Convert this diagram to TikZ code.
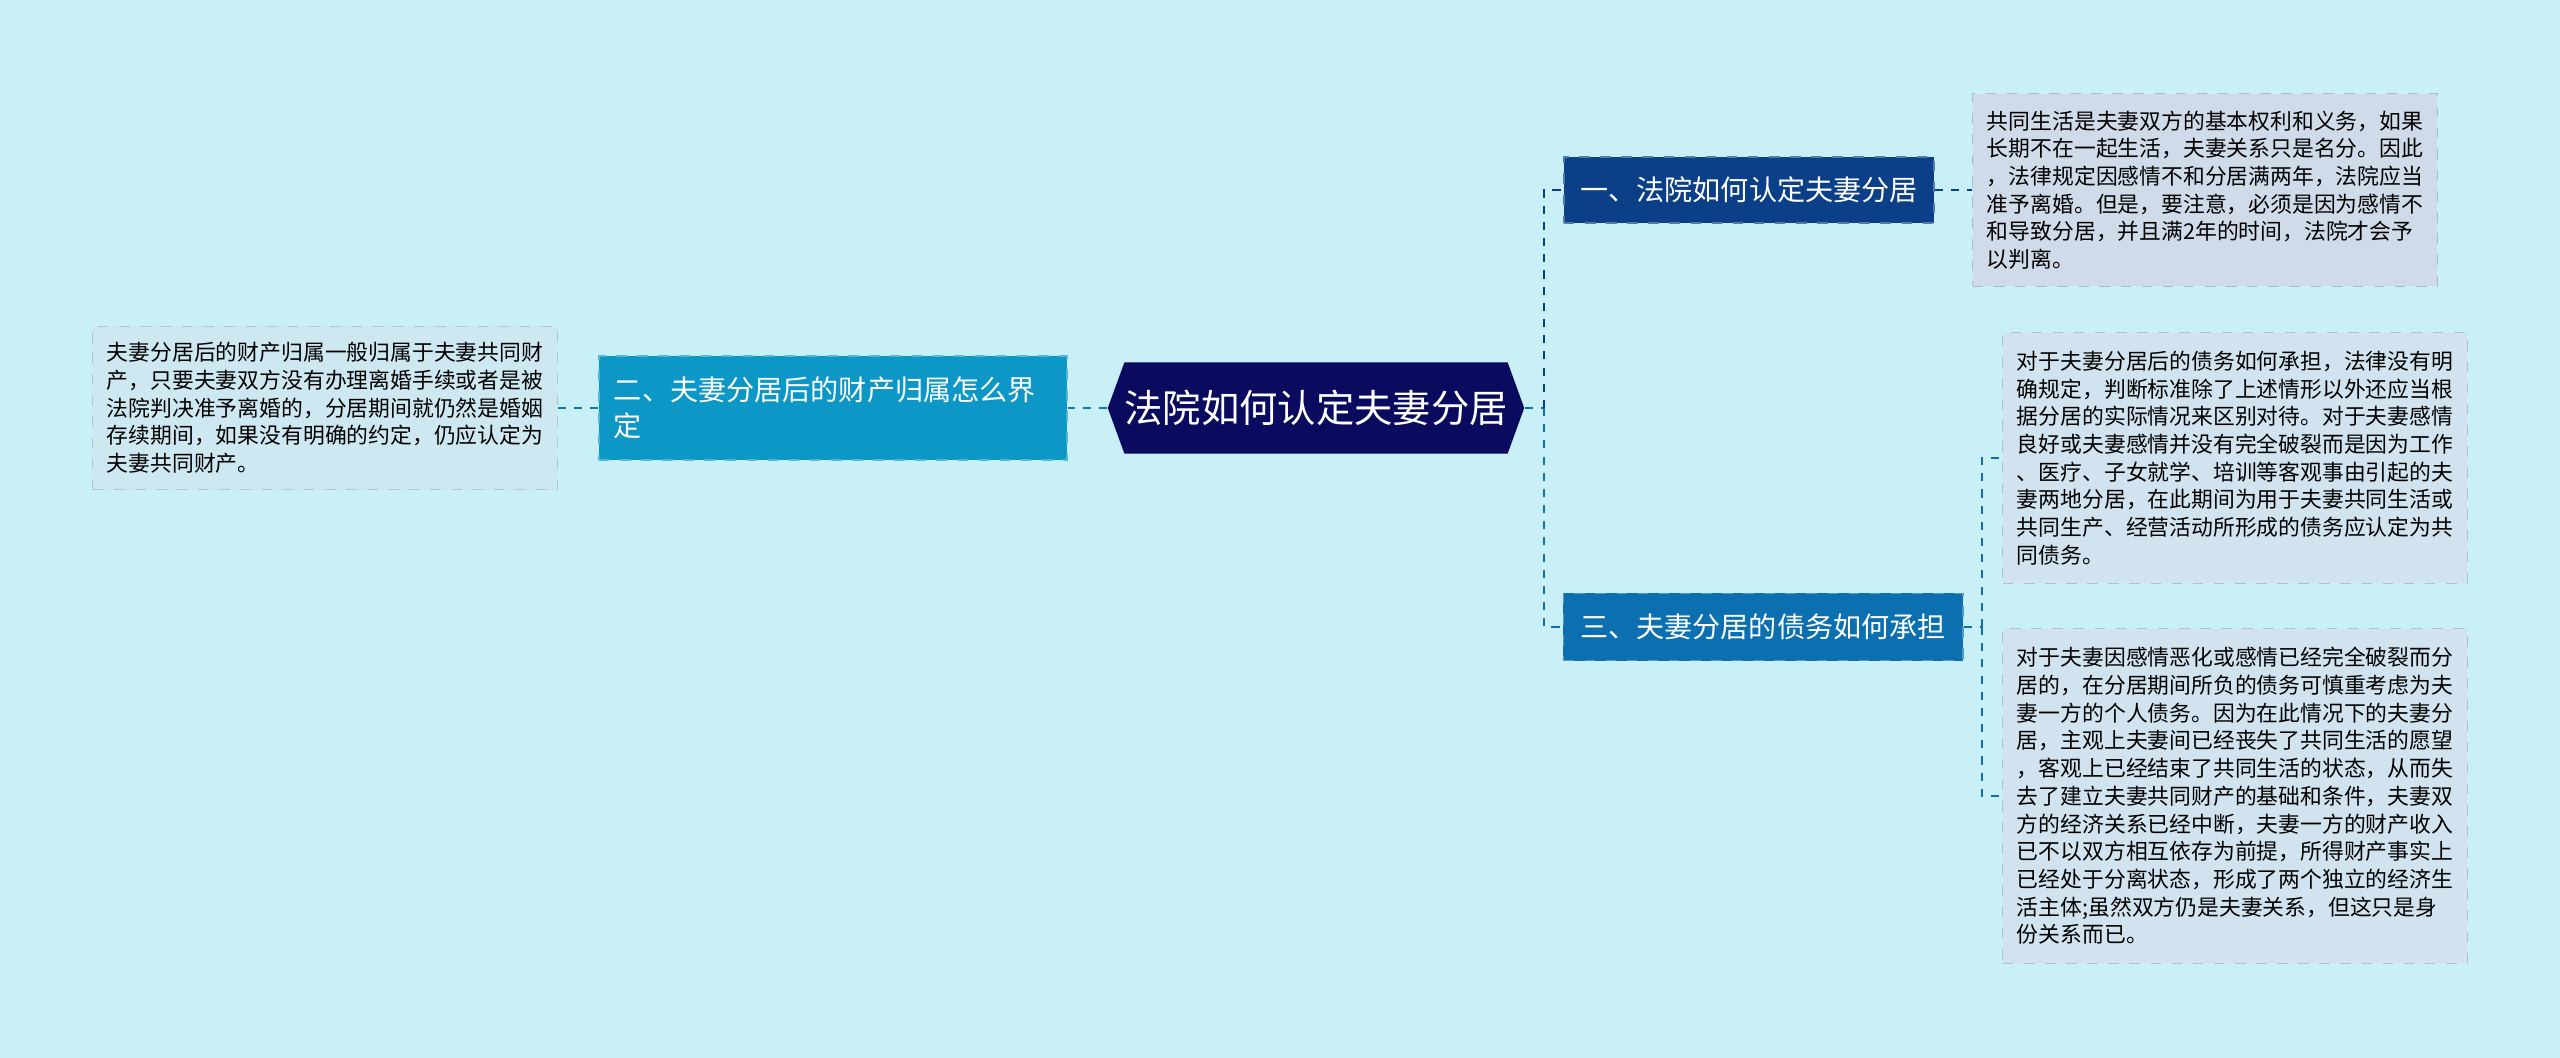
\documentclass[tikz,border=0pt]{standalone}
\usepackage{fontspec}
\setmainfont{Noto Sans CJK SC}
\usetikzlibrary{shapes.symbols}
\definecolor{bgcyan}{HTML}{C9EFF7}
\definecolor{rootnavy}{HTML}{0A0A5E}
\definecolor{secdark}{HTML}{0B3F87}
\definecolor{secmid}{HTML}{0C70B0}
\definecolor{seclight}{HTML}{0D97C6}
\definecolor{notegray}{HTML}{CFDBE8}
\definecolor{noteblue}{HTML}{D0E3EE}
\definecolor{notepale}{HTML}{CDE8F1}
\tikzset{
  topic/.style={shape=signal, signal to=west and east, signal pointer angle=140,
    fill=rootnavy, text=white, minimum width=3.86cm, minimum height=0.91cm,
    inner sep=0pt, font=\fontsize{10.9}{13}\selectfont},
  branch/.style={draw=#1!70!white, dashed, line width=0.5pt, fill=#1, text=white,
    inner xsep=0.15cm, font=\fontsize{8}{10.2}\selectfont},
  note/.style={fill=#1, draw=#1!85!black, dashed, line width=0.3pt, align=left,
    minimum width=4.64cm, font=\fontsize{6.2}{7.88}\selectfont},
  link/.style={dash pattern=on 2.3pt off 2.3pt, line width=0.8pt}
}
\begin{document}
\begin{tikzpicture}[x=0.01cm, y=-0.01cm]
    \fill[bgcyan] (0,0) rectangle (2560,1058);
    \node[topic] (topic) at (1316,408) {法院如何认定夫妻分居};
    \node[branch=secdark, minimum width=3.70cm, minimum height=0.66cm] (secA) at (1749,190) {一、法院如何认定夫妻分居};
    \node[branch=seclight, minimum height=1.04cm, text width=4.38cm, align=left] (secB) at (833,408) {二、夫妻分居后的财产归属怎么界\\定};
    \node[branch=secmid, minimum width=3.99cm, minimum height=0.67cm] (secC) at (1763,627) {三、夫妻分居的债务如何承担};
    \node[note=notegray, minimum height=1.92cm] (noteA) at (2205,190) {共同生活是夫妻双方的基本权利和义务，如果\\长期不在一起生活，夫妻关系只是名分。因此\\，法律规定因感情不和分居满两年，法院应当\\准予离婚。但是，要注意，必须是因为感情不\\和导致分居，并且满2年的时间，法院才会予\\以判离。};
    \node[note=notepale, minimum height=1.63cm] (noteB) at (325,408) {夫妻分居后的财产归属一般归属于夫妻共同财\\产，只要夫妻双方没有办理离婚手续或者是被\\法院判决准予离婚的，分居期间就仍然是婚姻\\存续期间，如果没有明确的约定，仍应认定为\\夫妻共同财产。};
    \node[note=noteblue, minimum height=2.50cm] (noteC1) at (2235,458) {对于夫妻分居后的债务如何承担，法律没有明\\确规定，判断标准除了上述情形以外还应当根\\据分居的实际情况来区别对待。对于夫妻感情\\良好或夫妻感情并没有完全破裂而是因为工作\\、医疗、子女就学、培训等客观事由引起的夫\\妻两地分居，在此期间为用于夫妻共同生活或\\共同生产、经营活动所形成的债务应认定为共\\同债务。};
    \node[note=noteblue, minimum height=3.34cm] (noteC2) at (2235,796) {对于夫妻因感情恶化或感情已经完全破裂而分\\居的，在分居期间所负的债务可慎重考虑为夫\\妻一方的个人债务。因为在此情况下的夫妻分\\居，主观上夫妻间已经丧失了共同生活的愿望\\，客观上已经结束了共同生活的状态，从而失\\去了建立夫妻共同财产的基础和条件，夫妻双\\方的经济关系已经中断，夫妻一方的财产收入\\已不以双方相互依存为前提，所得财产事实上\\已经处于分离状态，形成了两个独立的经济生\\活主体;虽然双方仍是夫妻关系，但这只是身\\份关系而已。};
    % bus points of the right-hand branches
    \coordinate (rbus) at (1544,408);
    \coordinate (cbus) at (1982,627);
    \draw[link, color=seclight!85!black] (topic.west) -- (secB.east);
    \draw[link, color=seclight!85!black] (secB.west) -- (noteB.east);
    \draw[link, color=secmid] (topic.east) -- (rbus);
    \draw[link, color=secdark] (rbus) |- (secA.west);
    \draw[link, color=secmid] (rbus) |- (secC.west);
    \draw[link, line width=0.55pt, color=secdark] (secA.east) -- (noteA.west);
    \draw[link, line width=0.55pt, color=secmid] (secC.east) -- (cbus);
    \draw[link, line width=0.55pt, color=secmid] (cbus) |- (noteC1.west);
    \draw[link, line width=0.55pt, color=secmid] (cbus) |- (noteC2.west);
\end{tikzpicture}
\end{document}
